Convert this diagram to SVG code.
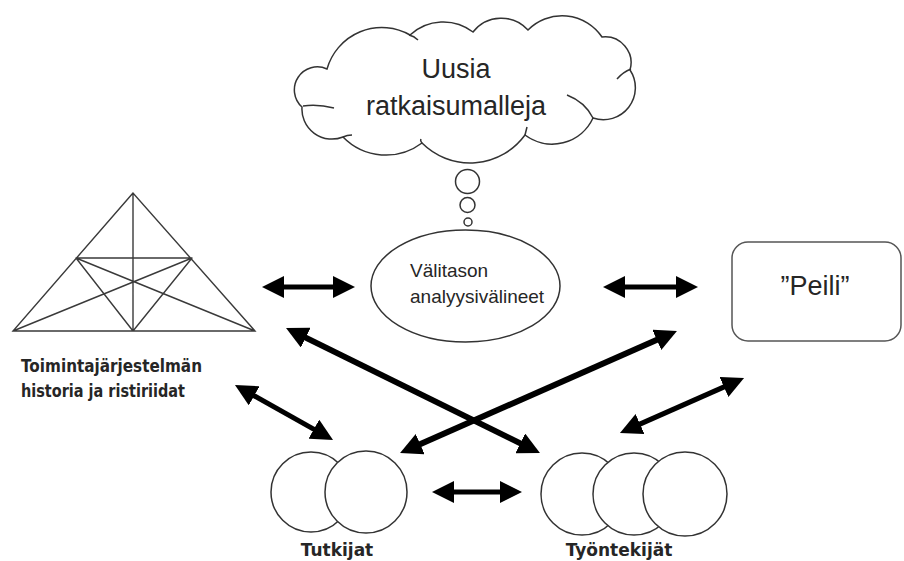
<svg xmlns="http://www.w3.org/2000/svg" width="904" height="561" viewBox="0 0 904 561">
  <style>
    .outline { fill: #ffffff; stroke: #333333; stroke-width: 1.5; }
    .thin { fill: none; stroke: #333333; stroke-width: 1.5; }
    .tri { fill: none; stroke: #3a3a3a; stroke-width: 1.4; stroke-linecap: round; }
    .arrow { fill: none; stroke: #000000; stroke-width: 5; marker-start: url(#head); marker-end: url(#head); }
    .arrow.long { stroke-width: 6; }
    .big { font-family: "Liberation Sans", Arial, sans-serif; font-size: 27px; fill: #262626; }
    .mid { font-family: "Liberation Sans", Arial, sans-serif; font-size: 19px; fill: #262626; }
    .lbl { font-family: "DejaVu Sans", Verdana, sans-serif; font-size: 17px; font-weight: bold; fill: #262626; }
  </style>
  <defs>
    <marker id="head" viewBox="0 0 22 22" markerWidth="22" markerHeight="22" markerUnits="userSpaceOnUse" refX="12" refY="11" orient="auto-start-reverse">
      <path d="M0,0 L22,11 L0,22 z" fill="#000000"/>
    </marker>
  </defs>

  <rect width="904" height="561" fill="#ffffff"/>

  <!-- cloud with the thought bubbles -->
  <g id="cloud">
    <path class="outline" d="M302,107 A23,23 0 0 1 327,69 A57,57 0 0 1 410,35 A49,49 0 0 1 473,32 A36,36 0 0 1 528,30 A48,48 0 0 1 602,37 A26,26 0 0 1 630,70 A32,32 0 0 1 593,118 A45,45 0 0 1 525,135 A68,68 0 0 1 422,143 A60,60 0 0 1 343,137 A30,30 0 0 1 302,107 Z"/>
    <path class="thin" d="M303,106 Q318,104 334,108 M409,35 Q414,36 418,40 M631,69 Q623,72 617,79 M593,118 Q585,102 567,95 M525,135 Q526,131 527,127 M422,143 Q420,141 421,139 M343,137 Q347,135 352,135"/>
    <text class="big" x="456" y="78" text-anchor="middle">Uusia</text>
    <text class="big" x="456" y="115" text-anchor="middle">ratkaisumalleja</text>
    <circle class="outline" cx="467.5" cy="181.5" r="12"/>
    <circle class="outline" cx="467.5" cy="205" r="7.5"/>
    <circle class="outline" cx="468" cy="222" r="4"/>
  </g>

  <!-- activity system triangle -->
  <g id="triangle">
    <path class="tri" d="M133,193 L13,331 L255,331 Z M133,193 L133,331 M76,258 L192,258 M76,258 L255,331 M192,258 L13,331 M76,258 L133,331 M192,258 L133,331"/>
    <text class="lbl" x="21" y="372" textLength="181" lengthAdjust="spacingAndGlyphs">Toimintajärjestelmän</text>
    <text class="lbl" x="21" y="397" textLength="164" lengthAdjust="spacingAndGlyphs">historia ja ristiriidat</text>
  </g>

  <!-- intermediate analysis tools -->
  <g id="tools">
    <ellipse class="outline" cx="465.5" cy="286" rx="94.5" ry="56"/>
    <text class="mid" x="410" y="277">Välitason</text>
    <text class="mid" x="410" y="303">analyysivälineet</text>
  </g>

  <!-- mirror -->
  <g id="mirror">
    <rect x="732" y="242" width="169" height="99" rx="16" ry="16" fill="#ffffff" stroke="#555555" stroke-width="1.5"/>
    <text class="big" x="815" y="295" text-anchor="middle">”Peili”</text>
  </g>

  <!-- researchers -->
  <g id="researchers">
    <circle class="outline" cx="311" cy="492" r="40"/>
    <circle class="outline" cx="366" cy="492" r="41"/>
    <text class="lbl" x="337" y="556" text-anchor="middle">Tutkijat</text>
  </g>

  <!-- workers -->
  <g id="workers">
    <circle class="outline" cx="582" cy="494" r="41"/>
    <circle class="outline" cx="634" cy="494" r="41"/>
    <circle class="outline" cx="685" cy="494" r="42"/>
    <text class="lbl" x="619" y="556" text-anchor="middle">Työntekijät</text>
  </g>

  <!-- two-way connectors -->
  <g id="connectors">
    <line class="arrow" x1="272" y1="287" x2="345" y2="287"/>
    <line class="arrow" x1="613" y1="287" x2="688" y2="287"/>
    <line class="arrow" x1="442" y1="492" x2="512" y2="492"/>
    <line class="arrow" x1="243.7" y1="389.9" x2="324.3" y2="435.1"/>
    <line class="arrow long" x1="295" y1="332.4" x2="531" y2="448.6"/>
    <line class="arrow long" x1="409.2" y1="449" x2="667.8" y2="335"/>
    <line class="arrow" x1="629.1" y1="428.9" x2="734.9" y2="382.1"/>
  </g>
</svg>
